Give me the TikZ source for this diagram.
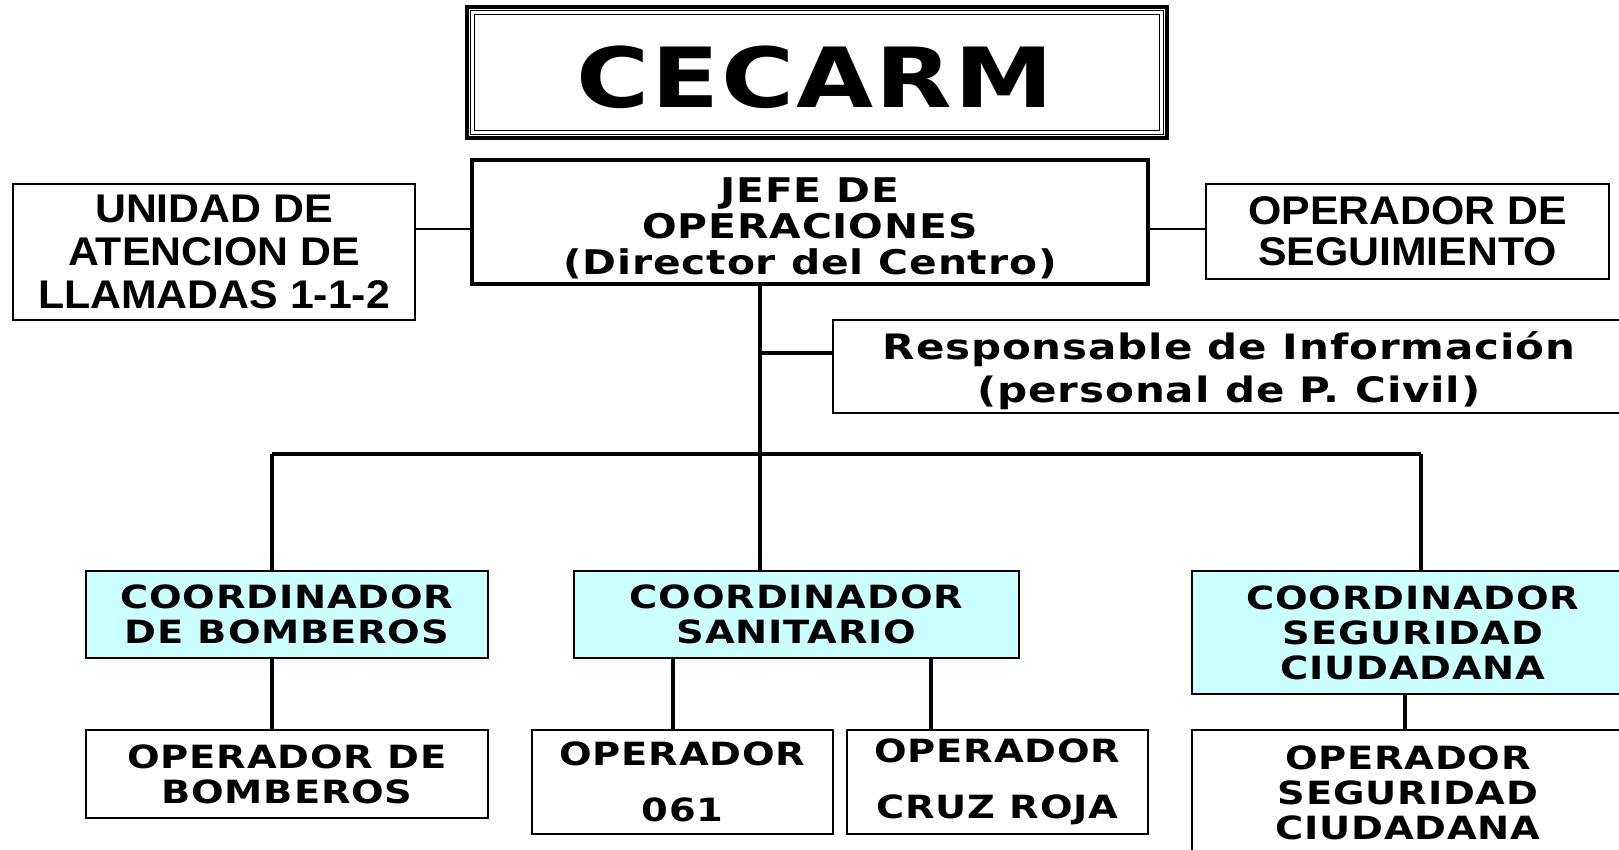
\documentclass[tikz,border=0pt]{standalone}
\usepackage{fontspec}
\usetikzlibrary{calc}
\newfontfamily\vb[FakeStretch=1.2,LetterSpace=2.5]{DejaVu Sans Bold}
\newfontfamily\ab[FakeStretch=1.07]{Liberation Sans Bold}
\definecolor{cyanfill}{HTML}{CCFFFF}
\begin{document}
\begin{tikzpicture}[x=1pt,y=-1pt,
  box/.style={draw=black,line width=1.8pt,fill=white,inner sep=0pt,align=center,anchor=center},
  coord/.style={box,fill=cyanfill},
  txt/.style={inner sep=0pt,align=center,anchor=center},
  thickline/.style={line width=3.2pt},
  thinline/.style={line width=1.8pt}]
\useasboundingbox (0,0) rectangle (1619,850);
\clip (0,0) rectangle (1619,850);
\fill[white] (0,0) rectangle (1619,850);

% title
\node[box,line width=3.5pt,minimum width=700pt,minimum height=131pt] (cecarm) at (817,72.5) {};
\draw[line width=1.4pt] ($(cecarm.north west)+(5,5)$) rectangle ($(cecarm.south east)+(-5,-5)$);
\draw[line width=1pt] ($(cecarm.north west)+(9,9)$) rectangle ($(cecarm.south east)+(-9,-9)$);
\node[txt,font={\vb\fontsize{83}{83}\selectfont}] (cecarmT) at ($(cecarm.center)+(-2,5)$) {CECARM};

% top row
\node[box,line width=3.5pt,minimum width=676pt,minimum height=124pt] (jefe) at (810,222) {};
\node[txt,font={\vb\fontsize{34}{36}\selectfont}] (jefeT) at ($(jefe.center)+(0,6)$) {JEFE DE\\OPERACIONES\\(Director del Centro)};
\node[box,minimum width=402pt,minimum height=136pt,font={\ab\fontsize{40}{43}\selectfont}] (unidad) at (214,252) {UNIDAD DE\\ATENCION DE\\LLAMADAS 1-1-2};
\node[box,minimum width=403pt,minimum height=95pt,font={\ab\fontsize{40}{41}\selectfont}] (opseg) at (1407.5,231.5) {OPERADOR DE\\SEGUIMIENTO};
\node[box,minimum width=800pt,minimum height=93pt] (resp) at (1233,366.5) {};
\node[txt,font={\vb\fontsize{35}{43}\selectfont}] (respT) at ($(resp.center)+(-4,4)$) {Responsable de Información\\(personal de P. Civil)};

% coordinators
\node[coord,minimum width=402pt,minimum height=87pt,font={\vb\fontsize{32}{35}\selectfont}] (cobomb) at (287,614.5) {COORDINADOR\\DE BOMBEROS};
\node[coord,minimum width=445pt,minimum height=87pt,font={\vb\fontsize{32}{35}\selectfont}] (cosan) at (796.5,614.5) {COORDINADOR\\SANITARIO};
\node[coord,minimum width=442pt,minimum height=123pt,font={\vb\fontsize{32}{35}\selectfont}] (coseg) at (1413,632.5) {COORDINADOR\\SEGURIDAD\\CIUDADANA};

% operators
\node[box,minimum width=402pt,minimum height=88pt,font={\vb\fontsize{32}{35}\selectfont}] (opbomb) at (287,774) {OPERADOR DE\\BOMBEROS};
\node[box,minimum width=301pt,minimum height=104pt,font={\vb\fontsize{32}{56}\selectfont}] (op061) at (682.5,782) {OPERADOR\\061};
\node[box,minimum width=301pt,minimum height=104pt,font={\vb\fontsize{32}{56}\selectfont}] (opcruz) at (997.5,782) {OPERADOR\\CRUZ ROJA};
\node[box,minimum width=432pt,minimum height=126pt,font={\vb\fontsize{32}{35}\selectfont}] (opsegc) at (1408,793) {OPERADOR\\SEGURIDAD\\CIUDADANA};

% helper coordinates
\coordinate (ysides) at (0,229);
\coordinate (yresp) at (0,353);
\coordinate (trunk) at (760,454);
\coordinate (busL) at (272,454);
\coordinate (busR) at (1421,454);
\coordinate (x061) at (673,0);
\coordinate (xcruz) at (931,0);
\coordinate (xseg) at (1405,0);

% connectors
\draw[thinline] (unidad.east |- ysides) -- (jefe.west |- ysides);
\draw[thinline] (jefe.east |- ysides) -- (opseg.west |- ysides);
\draw[thickline] (jefe.south -| trunk) -- (cosan.north -| trunk);
\draw[thickline] (trunk |- yresp) -- (resp.west |- yresp);
\draw[thickline] (busL) -- (busR);
\draw[thickline] (busL) -- (cobomb.north -| busL);
\draw[thickline] (busR) -- (coseg.north -| busR);
\draw[thickline] (cobomb.south -| busL) -- (opbomb.north -| busL);
\draw[thickline] (cosan.south -| x061) -- (op061.north -| x061);
\draw[thickline] (cosan.south -| xcruz) -- (opcruz.north -| xcruz);
\draw[thickline] (coseg.south -| xseg) -- (opsegc.north -| xseg);
\end{tikzpicture}
\end{document}
